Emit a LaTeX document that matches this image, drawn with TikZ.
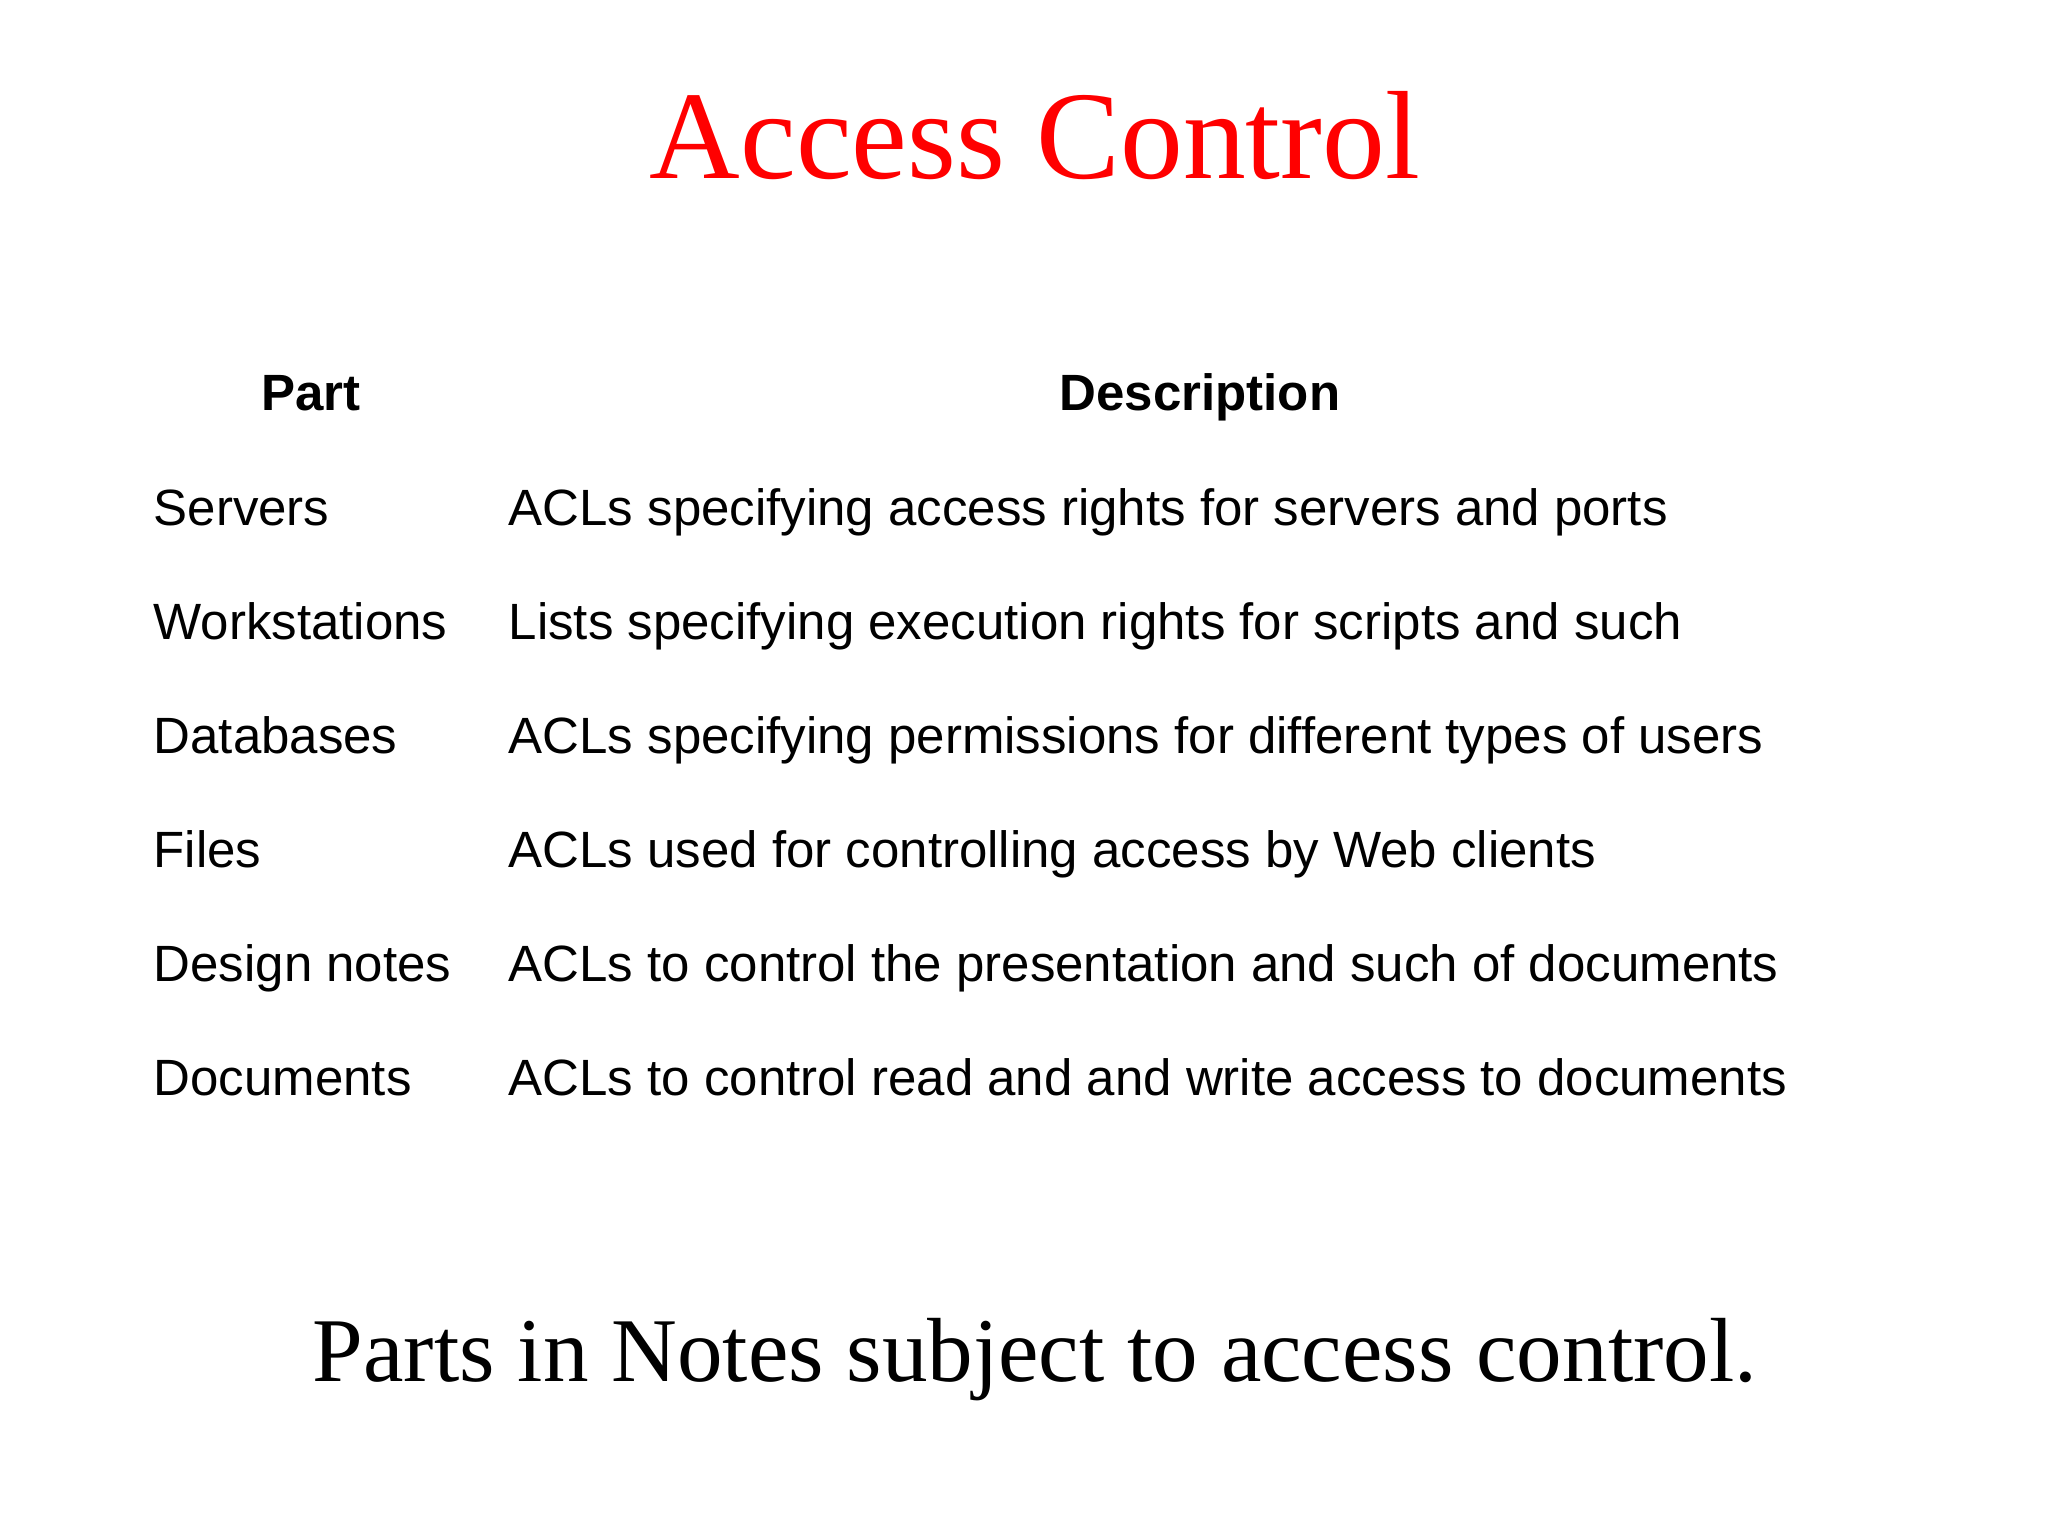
\documentclass[tikz,border=0pt]{standalone}
\usepackage{fontspec}
\setmainfont{Liberation Serif}
\setsansfont{Liberation Sans}
\begin{document}
\begin{tikzpicture}[x=0.01cm,y=-0.01cm,
  cell/.style={anchor=base west,inner sep=0pt,font=\sffamily\fontsize{14.5}{17}\selectfont},
  head/.style={anchor=base,inner sep=0pt,font=\sffamily\bfseries\fontsize{14.5}{17}\selectfont}]
\useasboundingbox (0,0) rectangle (2048,1536);
\node[anchor=base,inner sep=0pt,text=red,font=\fontsize{35.7}{42}\selectfont] (title) at (1035,178) {Access Control};
\node[head] (hp) at (311,410) {Part};
\node[head] (hd) at (1200,410) {Description};
\foreach \n/\y/\a/\b in {1/525/Servers/ACLs specifying access rights for servers and ports,
  2/639/Workstations/Lists specifying execution rights for scripts and such,
  3/753/Databases/ACLs specifying permissions for different types of users,
  4/867/Files/ACLs used for controlling access by Web clients,
  5/981/Design notes/ACLs to control the presentation and such of documents,
  6/1095/Documents/ACLs to control read and and write access to documents}{
  \node[cell] (p\n) at (153,\y) {\a};
  \node[cell] (d\n) at (508,\y) {\b};
}
\node[anchor=base,inner sep=0pt,font=\fontsize{25.9}{30}\selectfont] (foot) at (1035,1381) {Parts in Notes subject to access control.};
\end{tikzpicture}
\end{document}
